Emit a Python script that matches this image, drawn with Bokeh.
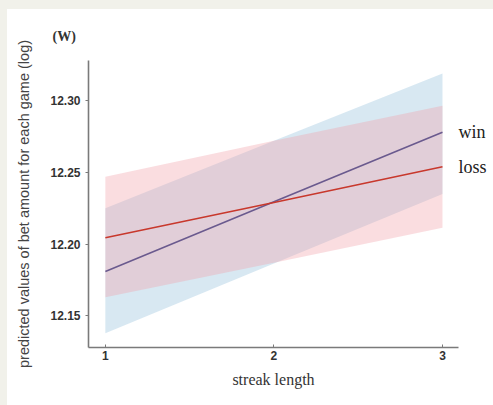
from bokeh.plotting import figure
from bokeh.models import Range1d, FixedTicker, ColumnDataSource, LinearAxis
from bokeh.embed import file_html
from bokeh.resources import INLINE

# ---- data ----
streak = [1, 2, 3]
win_fit = [12.181, 12.2295, 12.278]
win_low = [12.138, 12.1865, 12.235]
win_high = [12.225, 12.272, 12.319]
loss_fit = [12.2045, 12.229, 12.254]
loss_low = [12.163, 12.187, 12.2114]
loss_high = [12.247, 12.272, 12.2965]
y_ticks = [12.15, 12.20, 12.25, 12.30]
y_tick_labels = ["12.15", "12.20", "12.25", "12.30"]
x_ticks = [1, 2, 3]
series_names = ["win", "loss"]

win_src = ColumnDataSource(dict(x=streak, fit=win_fit, low=win_low, high=win_high))
loss_src = ColumnDataSource(dict(x=streak, fit=loss_fit, low=loss_low, high=loss_high))

p = figure(width=493, height=405,
           x_range=Range1d(0.9, 3.095), y_range=Range1d(12.128, 12.328),
           output_backend="svg", toolbar_location=None,
           min_border_left=88, min_border_right=35, min_border_top=60, min_border_bottom=58,
           background_fill_color="white", border_fill_color="white",
           outline_line_color=None)
p.xgrid.visible = False
p.ygrid.visible = False

# unit marker above the y axis
p.title.text = "(W)"
p.title.align = "left"
p.title.offset = -36
p.title.standoff = 34
p.title.text_font = "Liberation Serif"
p.title.text_font_style = "bold"
p.title.text_font_size = "14px"
p.title.text_color = "#333333"

# confidence bands
p.varea(x="x", y1="low", y2="high", source=win_src, fill_color="#a9cde3", fill_alpha=0.45)
p.varea(x="x", y1="low", y2="high", source=loss_src, fill_color="#f0a0aa", fill_alpha=0.36)
# fitted lines
p.line("x", "fit", source=win_src, line_color="#6a5a8e", line_width=1.6)
p.line("x", "fit", source=loss_src, line_color="#c8382c", line_width=1.6)

# axes
for ax in (p.xaxis[0], p.yaxis[0]):
    ax.axis_line_color = "#7a7a7a"
    ax.axis_line_width = 1.6
    ax.major_tick_line_color = "#7a7a7a"
    ax.minor_tick_line_color = None
    ax.major_label_text_font = "Liberation Sans"
    ax.major_label_text_font_style = "bold"
    ax.major_label_text_font_size = "12px"
    ax.major_label_text_color = "#333333"

p.xaxis.ticker = FixedTicker(ticks=x_ticks)
p.xaxis.major_tick_in = 3
p.xaxis.major_tick_out = 0
p.xaxis.major_label_standoff = 3
p.xaxis.axis_label = "streak length"
p.xaxis.axis_label_text_font = "Liberation Serif"
p.xaxis.axis_label_text_font_style = "normal"
p.xaxis.axis_label_text_font_size = "16px"
p.xaxis.axis_label_text_color = "#333333"
p.xaxis.axis_label_standoff = 8

p.yaxis.ticker = FixedTicker(ticks=y_ticks)
p.yaxis.major_label_overrides = {t: s for t, s in zip(y_ticks, y_tick_labels)}
p.yaxis.major_tick_in = 0
p.yaxis.major_tick_out = 3
p.yaxis.major_label_standoff = 5
p.yaxis.axis_label = "predicted values of bet amount for each game (log)"
p.yaxis.axis_label_text_font = "Liberation Sans"
p.yaxis.axis_label_text_font_style = "normal"
p.yaxis.axis_label_text_font_size = "14.5px"
p.yaxis.axis_label_text_color = "#444444"
p.yaxis.axis_label_standoff = 15

# series labels at the right end of each line (an unlined right axis)
right = LinearAxis(ticker=FixedTicker(ticks=[win_fit[-1], loss_fit[-1]]),
                   major_label_overrides={win_fit[-1]: series_names[0],
                                          loss_fit[-1]: series_names[1]})
right.axis_line_color = None
right.major_tick_line_color = None
right.minor_tick_line_color = None
right.major_label_standoff = -6
right.major_label_text_font = "Liberation Serif"
right.major_label_text_font_size = "18px"
right.major_label_text_color = "#222222"
p.add_layout(right, "right")

html = file_html(p, INLINE)
# page frame: thin beige strips along the left and top edges
html = html.replace("</head>",
                    "<style>html{background:#ffffff;}"
                    "body::before{content:'';position:fixed;left:0;top:0;width:7px;height:100%;"
                    "background:#f1f1ea;z-index:9999;}"
                    "body::after{content:'';position:fixed;left:0;top:0;width:100%;height:9px;"
                    "background:#f1f1ea;z-index:9999;}"
                    "</style></head>", 1)
open("out.html", "w").write(html)
